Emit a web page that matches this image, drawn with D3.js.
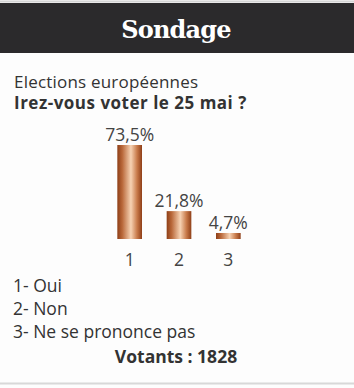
<!DOCTYPE html>
<html>
<head>
<meta charset="utf-8">
<script src="https://cdn.jsdelivr.net/npm/d3@7"></script>
<style>
  html, body { margin: 0; padding: 0; background: #fff; }
</style>
</head>
<body>
<svg id="chart"></svg>
<script>
const categories = ["1", "2", "3"];
const values = [73.5, 21.8, 4.7];
const legendLabels = ["1- Oui", "2- Non", "3- Ne se prononce pas"];
const title = "Sondage";
const subtitle = "Elections européennes";
const question = "Irez-vous voter le 25 mai ?";
const votants = "Votants : 1828";

const W = 354, H = 388;
const FONT = "'Open Sans', 'Noto Sans', sans-serif";
const TEXT = "#333";
const FS = 17.5;

const svg = d3.select("#chart").attr("width", W).attr("height", H);

// panel frame
svg.append("rect").attr("x", 0).attr("y", 0).attr("width", W).attr("height", H).attr("fill", "#fdfdfd");
svg.append("line").attr("x1", 0).attr("x2", W).attr("y1", 1.5).attr("y2", 1.5).attr("stroke", "#d4d4d4").attr("stroke-width", 2);
svg.append("line").attr("x1", 0).attr("x2", W).attr("y1", 383.5).attr("y2", 383.5).attr("stroke", "#d8d8d8").attr("stroke-width", 2);

// header band
svg.append("rect").attr("x", 0).attr("y", 3).attr("width", W).attr("height", 50).attr("fill", "#2b2a2c");
svg.append("text")
  .attr("x", 176).attr("y", 38)
  .attr("text-anchor", "middle")
  .attr("fill", "#fff")
  .attr("font-family", "'DejaVu Serif', serif")
  .attr("font-weight", 700)
  .attr("font-size", 24)
  .attr("letter-spacing", -0.8)
  .text(title);

// heading lines (slightly smaller so the two lines do not collide)
svg.append("text").attr("x", 14).attr("y", 88)
  .attr("font-family", FONT).attr("font-size", 17).attr("fill", TEXT)
  .attr("letter-spacing", 0.2)
  .text(subtitle);
svg.append("text").attr("x", 14).attr("y", 109)
  .attr("font-family", FONT).attr("font-size", 17).attr("font-weight", 700).attr("fill", TEXT)
  .attr("letter-spacing", 0.5)
  .text(question);

// copper gradient
const grad = svg.append("defs").append("linearGradient")
  .attr("id", "copper").attr("x1", "0%").attr("x2", "100%").attr("y1", "0%").attr("y2", "0%");
[["0%", "#8e3f17"], ["20%", "#b9683a"], ["55%", "#f6d2b3"], ["80%", "#c87a4a"], ["100%", "#8f3f18"]]
  .forEach(([o, c]) => grad.append("stop").attr("offset", o).attr("stop-color", c));

// chart
const x = d3.scaleBand().domain(categories).range([105, 253]).paddingInner(0.5).paddingOuter(0.25);
const baseY = 239;
const y = d3.scaleLinear().domain([0, 73.5]).range([baseY, 145]);

const g = svg.append("g");
g.selectAll("rect.bar").data(values).join("rect")
  .attr("class", "bar")
  .attr("x", (d, i) => x(categories[i]))
  .attr("y", d => y(d))
  .attr("width", x.bandwidth())
  .attr("height", d => baseY - y(d))
  .attr("fill", "url(#copper)");

g.selectAll("text.val").data(values).join("text")
  .attr("class", "val")
  .attr("x", (d, i) => x(categories[i]) + x.bandwidth() / 2)
  .attr("y", d => y(d) - 4)
  .attr("text-anchor", "middle")
  .attr("font-family", FONT).attr("font-size", FS).attr("fill", "#444")
  .text(d => d3.format(".1f")(d).replace(".", ",") + "%");

const ax = g.append("g").attr("transform", `translate(0,${baseY})`)
  .call(d3.axisBottom(x).tickSize(0).tickPadding(15));
ax.select(".domain").remove();
ax.selectAll("text").attr("font-family", FONT).attr("font-size", FS).attr("fill", "#444");

// legend
svg.selectAll("text.leg").data(legendLabels).join("text")
  .attr("class", "leg")
  .attr("x", 13)
  .attr("y", (d, i) => 292 + i * 23)
  .attr("font-family", FONT).attr("font-size", FS).attr("fill", TEXT)
  .text(d => d);

svg.append("text").attr("x", 176).attr("y", 363)
  .attr("text-anchor", "middle")
  .attr("font-family", FONT).attr("font-size", FS).attr("font-weight", 700).attr("fill", TEXT)
  .text(votants);
</script>
</body>
</html>
